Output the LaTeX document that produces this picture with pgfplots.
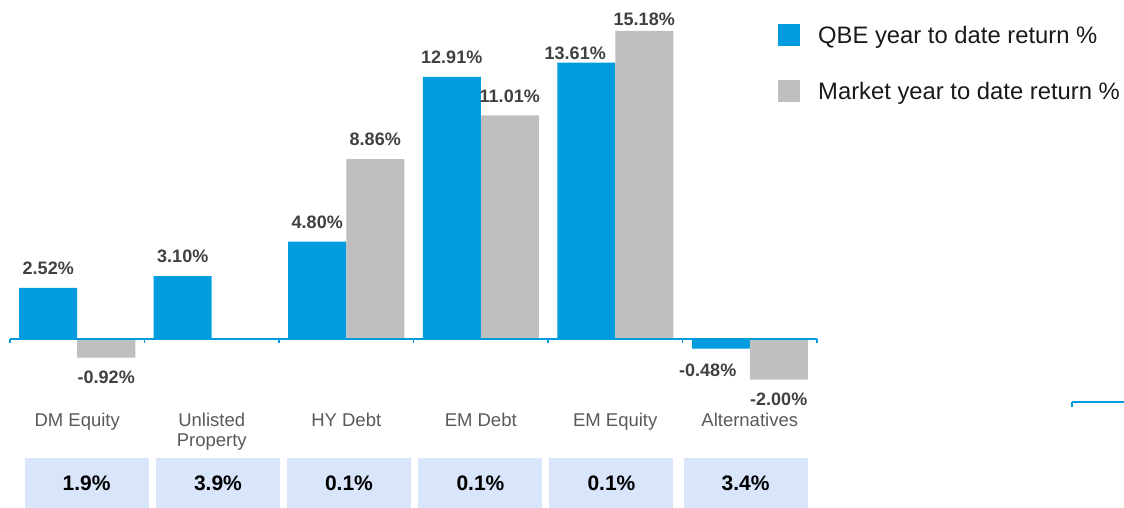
\documentclass[border=0pt]{standalone}
\usepackage{fontspec}
\setmainfont{Liberation Sans}
\usepackage{pgfplots}
\pgfplotsset{compat=1.18}
\definecolor{qbeblue}{HTML}{009CDE}
\definecolor{mktgray}{HTML}{BFBFBF}
\definecolor{boxblue}{HTML}{D9E5FA}
\definecolor{lbl}{HTML}{404040}
\definecolor{catgray}{HTML}{595959}
% label moved by hand, as in the original: dx, dy, text
\newcommand\nudge[3]{\raisebox{#2}[0pt][0pt]{\hspace*{#1}\makebox[0pt][c]{#3}\hspace*{-#1}}}

\pgfplotsset{
  barlabel/.style={
    nodes near coords, point meta=explicit symbolic,
    visualization depends on={y \as \rawy},
    every node near coord/.append style={xshift=#1, anchor=south, inner ysep=13pt,
      font=\fontsize{18}{21}\selectfont\bfseries, text=lbl},
    every node near coord/.append code={%
      \pgfmathfloatparsenumber{\rawy}%
      \pgfmathfloatgetflagstomacro\pgfmathresult\yflag
      \ifnum\yflag=2 \pgfkeysalso{anchor=north}\fi},
  },
}

\begin{document}
\begin{tikzpicture}[x=1pt,y=1pt]
\useasboundingbox (0,0) rectangle (1124,508);
\begin{axis}[
  at={(10pt,0pt)}, anchor=south west,
  scale only axis, width=807pt, height=508pt,
  xmin=-0.5, xmax=5.5, ymin=-8.325, ymax=16.70,
  hide axis, clip=false,
  legend style={at={(rel axis cs:0.9517,0.953)}, anchor=north west,
    draw=none, fill=none, inner sep=0pt, row sep=33pt, column sep=16pt,
    font=\fontsize{23.8}{27}\selectfont, text=black!90, cells={anchor=west}},
]
% QBE
\addplot[ybar, bar width=58pt, bar shift=-29pt, fill=qbeblue, draw=none, barlabel=-29pt,
  legend image code/.code={\fill[qbeblue] (0pt,-11pt) rectangle (22pt,11pt);}]
  coordinates {(0,2.52) [2.52\%] (1,3.10) [3.10\%] (2,4.80) [4.80\%]
               (3,12.91) [12.91\%] (4,13.61) [{\nudge{-11pt}{-10pt}{13.61\%}}]
               (5,-0.48) [{\nudge{-13pt}{-15pt}{-0.48\%}}]};
\addlegendentry{QBE year to date return \%}
% market
\addplot[ybar, bar width=58pt, bar shift=29pt, fill=mktgray, draw=none, barlabel=29pt,
  legend image code/.code={\fill[mktgray] (0pt,-11pt) rectangle (22pt,11pt);}]
  coordinates {(0,-0.92) [-0.92\%] (2,8.86) [8.86\%] (3,11.01) [11.01\%]
               (4,15.18) [{\nudge{0pt}{-8pt}{15.18\%}}] (5,-2.00) [-2.00\%]};
\addlegendentry{Market year to date return \%}

% zero line and group ticks
\addplot[qbeblue, line width=2pt, forget plot] coordinates {(-0.5,0) (5.5,0)};
\addplot[ycomb, qbeblue, line width=1.5pt, no marks, forget plot]
  coordinates {(-0.5,-0.22) (0.5,-0.22) (1.5,-0.22) (2.5,-0.22) (3.5,-0.22) (4.5,-0.22) (5.5,-0.22)};

% category names
\addplot[draw=none, no marks, forget plot, nodes near coords, point meta=explicit symbolic,
  every node near coord/.append style={anchor=north, align=center, inner sep=0pt,
    font=\fontsize{18.5}{20}\selectfont, text=catgray}]
  coordinates {(0,-3.65) [DM Equity] (1,-3.65) [{Unlisted\\Property}] (2,-3.65) [HY Debt]
               (3,-3.65) [EM Debt] (4,-3.65) [EM Equity] (5,-3.65) [Alternatives]};

% row of boxes
\addplot[draw=none, no marks, forget plot, nodes near coords, point meta=explicit symbolic,
  every node near coord/.append style={anchor=center, fill=boxblue, minimum width=124pt,
    minimum height=50pt, inner sep=0pt, font=\fontsize{21}{24}\selectfont\bfseries, text=black}]
  coordinates {(0.069,-7.094) [1.9\%] (1.046,-7.094) [3.9\%] (2.020,-7.094) [0.1\%]
               (2.998,-7.094) [0.1\%] (3.972,-7.094) [0.1\%] (4.969,-7.094) [3.4\%]};
\end{axis}
\draw[qbeblue, line width=2pt] (1072,106) -- (1124,106);
\draw[qbeblue, line width=1.5pt] (1072,106) -- (1072,101);
\end{tikzpicture}
\end{document}
